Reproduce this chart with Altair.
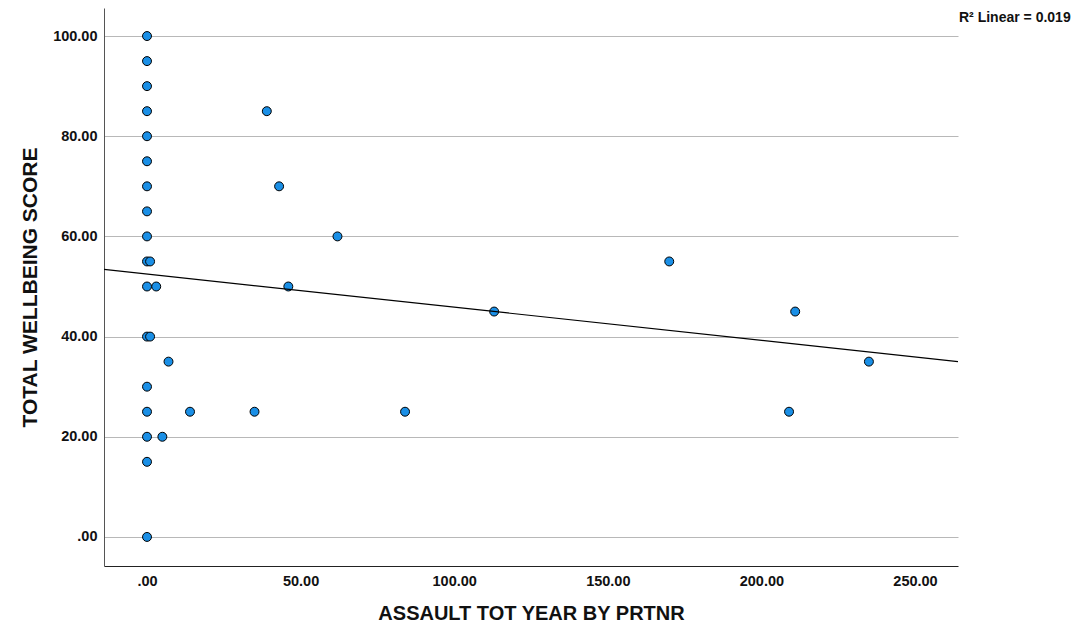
import altair as alt
import pandas as pd

assault = [0, 0, 0, 0, 0, 0, 0, 0, 0, 0, 0, 0, 0, 0, 0, 0, 0,
           1, 1, 3, 7, 5, 14, 35, 39, 43, 62, 46, 113, 84, 170, 209, 211, 235]
wellbeing = [100, 95, 90, 85, 80, 75, 70, 65, 60, 55, 50, 40, 30, 25, 20, 15, 0,
             55, 40, 50, 35, 20, 25, 25, 85, 70, 60, 50, 45, 25, 55, 25, 45, 35]

x_ticks = [0, 50, 100, 150, 200, 250]
y_ticks = [0, 20, 40, 60, 80, 100]
x_domain = [-14, 264]
y_domain = [-5.8, 105.6]

df = pd.DataFrame({"x": assault, "y": wellbeing})

fmt = "datum.value == 0 ? '.00' : format(datum.value, '.2f')"
FONT = "Liberation Sans"

xenc = alt.X("x:Q", scale=alt.Scale(domain=x_domain, nice=False, zero=False),
             axis=alt.Axis(values=x_ticks, labelExpr=fmt, grid=False, ticks=False,
                           title="ASSAULT TOT YEAR BY PRTNR", titleFontSize=20,
                           titleFont=FONT, titleFontWeight="bold", titlePadding=16,
                           labelFont=FONT, labelFontSize=14.5, labelFontWeight="bold",
                           labelPadding=8, domainColor="#222222", labelColor="#111111",
                           titleColor="#111111"))
yenc = alt.Y("y:Q", scale=alt.Scale(domain=y_domain, nice=False, zero=False),
             axis=alt.Axis(values=y_ticks, labelExpr=fmt, grid=True, gridColor="#b8b8b8",
                           ticks=False, title="TOTAL WELLBEING SCORE", titleFontSize=21,
                           titleFont=FONT, titleFontWeight="bold", titlePadding=12,
                           labelFont=FONT, labelFontSize=14.5, labelFontWeight="bold",
                           labelPadding=7, domainColor="#555555", labelColor="#111111",
                           titleColor="#111111"))

base = alt.Chart(df)

line = base.transform_regression("x", "y", extent=x_domain).mark_line(
    color="black", strokeWidth=1.2, clip=True).encode(x="x:Q", y="y:Q")

points = base.mark_circle(size=80, opacity=1, color="#1a8fe6", stroke="black",
                          strokeWidth=1).encode(x=xenc, y=yenc)

label = alt.Chart(pd.DataFrame({"t": ["R² Linear = 0.019"]})).mark_text(
    font=FONT, fontSize=14, fontWeight="bold", align="left", baseline="middle",
    color="#111111").encode(x=alt.value(855), y=alt.value(10), text="t:N")

chart = alt.layer(points, line, label).properties(
    width=854, height=558,
    autosize=alt.AutoSizeParams(type="none"),
    padding={"left": 96, "top": 0, "right": 115, "bottom": 58},
).configure_view(stroke=None)

chart.save("out.html", embed_options={"renderer": "svg", "actions": False})
